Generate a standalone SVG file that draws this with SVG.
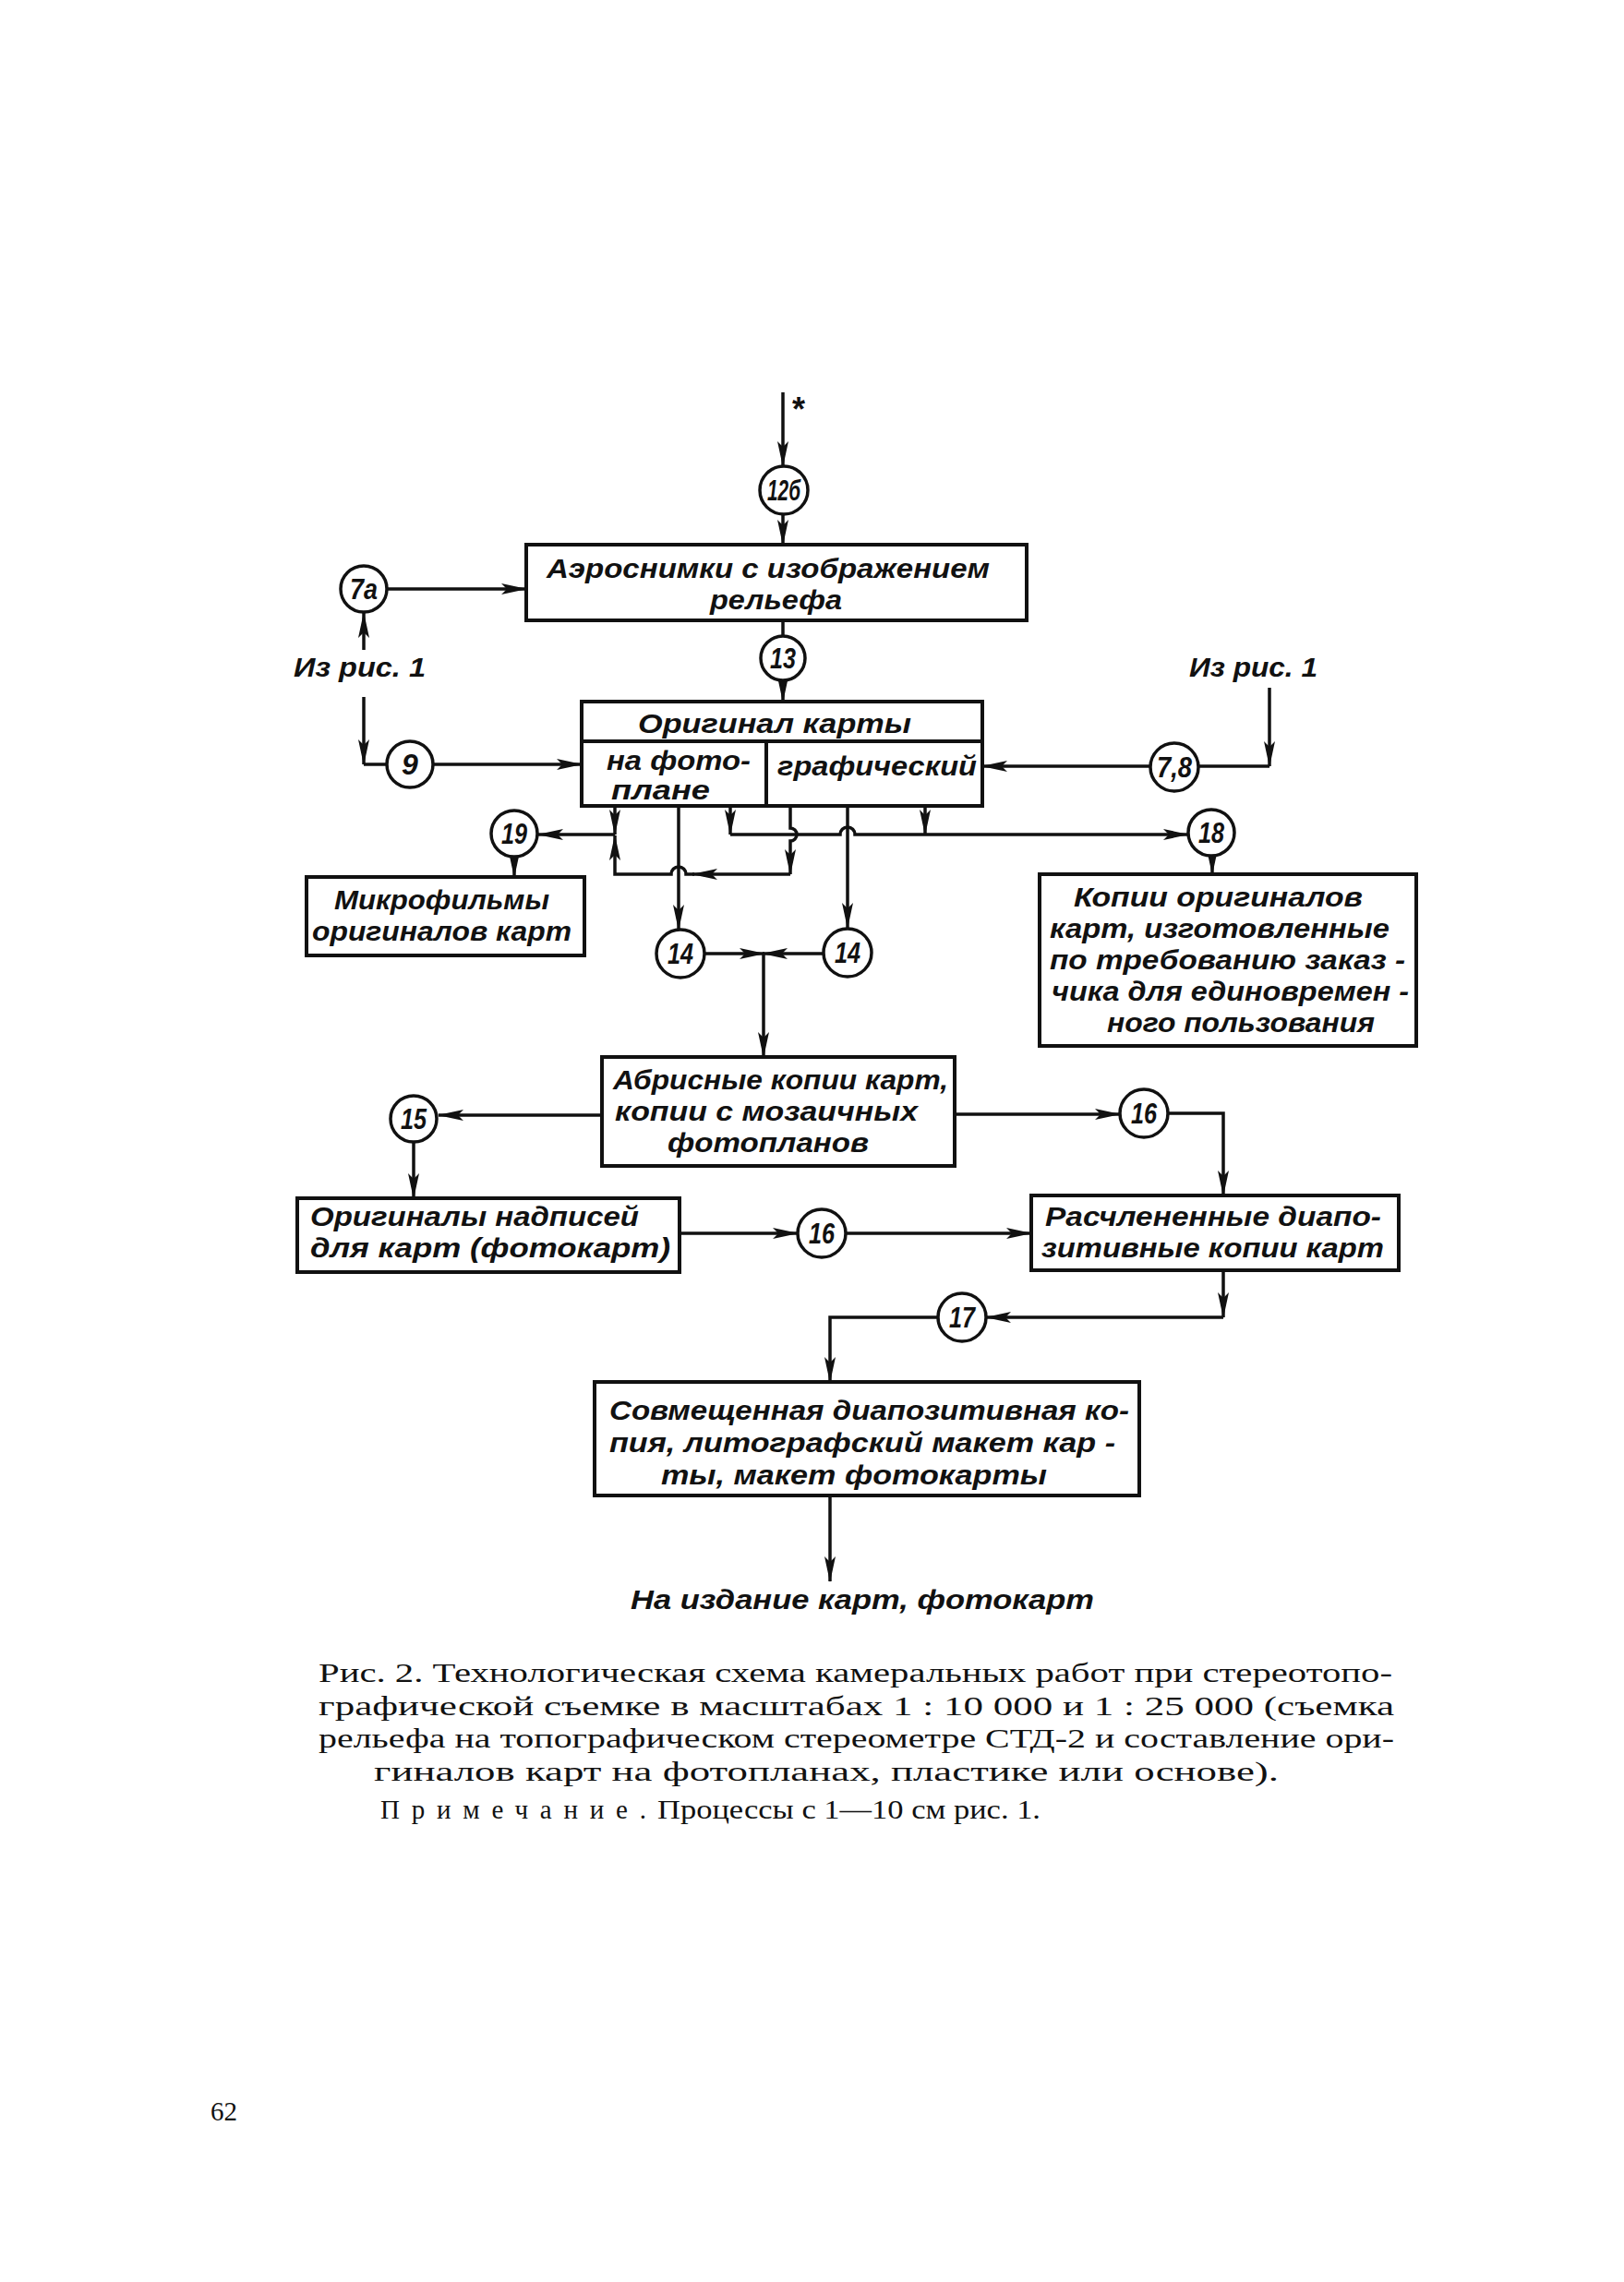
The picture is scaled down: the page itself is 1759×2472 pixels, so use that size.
<svg xmlns="http://www.w3.org/2000/svg" width="1759" height="2472" viewBox="0 0 1759 2472">
<style>
.bx{fill:none;stroke:#111;stroke-width:4}
.ci{fill:#fff;stroke:#111;stroke-width:3.5}
.ln{fill:none;stroke:#111;stroke-width:3.5}
.t{font-family:"Liberation Sans","DejaVu Sans",sans-serif;font-style:italic;font-weight:bold;font-size:30px;fill:#111}
.n{font-family:"Liberation Sans","DejaVu Sans",sans-serif;font-style:italic;font-weight:bold;font-size:32px;fill:#111;text-anchor:middle}
.cap{font-family:"Liberation Serif","DejaVu Serif",serif;font-size:29px;fill:#111}
</style>
<defs>
<marker id="a" viewBox="0 0 28 12" refX="27" refY="6" markerWidth="28" markerHeight="12" markerUnits="userSpaceOnUse" orient="auto">
<path d="M0,0 L28,6 L0,12 L6,6 z" fill="#111"/>
</marker>
</defs>
<rect width="1759" height="2472" fill="#fff"/>

<g id="connectors">
<path class="ln" d="M848,425 V505" marker-end="url(#a)"/>
<path class="ln" d="M848,557 V590" marker-end="url(#a)"/>
<path class="ln" d="M419,638 H570" marker-end="url(#a)"/>
<path class="ln" d="M394,704 V664" marker-end="url(#a)"/>
<path class="ln" d="M848,672 V689"/>
<path class="ln" d="M848,737 V760" marker-end="url(#a)"/>
<path class="ln" d="M394,755 V828" marker-end="url(#a)"/>
<path class="ln" d="M394,828 H419"/>
<path class="ln" d="M470,828 H630" marker-end="url(#a)"/>
<path class="ln" d="M1375,745 V830" marker-end="url(#a)"/>
<path class="ln" d="M1375,830 H1298"/>
<path class="ln" d="M1246,830 H1064" marker-end="url(#a)"/>
<path class="ln" d="M666,873 V904" marker-end="url(#a)"/>
<path class="ln" d="M856,873 V897 A7,7 0 0 1 856,911 V947" marker-end="url(#a)"/>
<path class="ln" d="M856,947 H750" marker-end="url(#a)"/>
<path class="ln" d="M752,947 H743 A8,8 0 0 0 727,947 H666 V905" marker-end="url(#a)"/>
<path class="ln" d="M666,904 H583" marker-end="url(#a)"/>
<path class="ln" d="M557,928 V950" marker-end="url(#a)"/>
<path class="ln" d="M735,873 V1007" marker-end="url(#a)"/>
<path class="ln" d="M791,873 V904" marker-end="url(#a)"/>
<path class="ln" d="M1002,873 V904" marker-end="url(#a)"/>
<path class="ln" d="M791,904 H910 A8,8 0 0 1 926,904 H1287" marker-end="url(#a)"/>
<path class="ln" d="M918,873 V1005" marker-end="url(#a)"/>
<path class="ln" d="M1313,927 V947" marker-end="url(#a)"/>
<path class="ln" d="M763,1033 H828" marker-end="url(#a)"/>
<path class="ln" d="M892,1033 H826" marker-end="url(#a)"/>
<path class="ln" d="M827,1033 V1145" marker-end="url(#a)"/>
<path class="ln" d="M652,1208 H475" marker-end="url(#a)"/>
<path class="ln" d="M448,1237 V1298" marker-end="url(#a)"/>
<path class="ln" d="M736,1336 H864" marker-end="url(#a)"/>
<path class="ln" d="M916,1336 H1117" marker-end="url(#a)"/>
<path class="ln" d="M1034,1207 H1213" marker-end="url(#a)"/>
<path class="ln" d="M1265,1206 H1325 V1295" marker-end="url(#a)"/>
<path class="ln" d="M1325,1376 V1427" marker-end="url(#a)"/>
<path class="ln" d="M1325,1427 H1068" marker-end="url(#a)"/>
<path class="ln" d="M1016,1427 H899 V1497" marker-end="url(#a)"/>
<path class="ln" d="M899,1620 V1713" marker-end="url(#a)"/>
</g>

<g id="n-star"><text x="858" y="456" font-family="Liberation Sans, sans-serif" font-weight="bold" font-size="36" fill="#111">*</text></g>

<g id="n-12b"><circle class="ci" cx="849" cy="531" r="26"/><text class="n" x="849" y="542" textLength="36" lengthAdjust="spacingAndGlyphs">12б</text></g>
<g id="n-7a"><circle class="ci" cx="394" cy="638" r="25"/><text class="n" x="394" y="649" textLength="30" lengthAdjust="spacingAndGlyphs">7а</text></g>
<g id="n-13"><circle class="ci" cx="848" cy="713" r="24"/><text class="n" x="848" y="724" textLength="28" lengthAdjust="spacingAndGlyphs">13</text></g>
<g id="n-9"><circle class="ci" cx="444" cy="828" r="25"/><text class="n" x="444" y="839">9</text></g>
<g id="n-78"><circle class="ci" cx="1272" cy="831" r="26"/><text class="n" x="1272" y="842" textLength="38" lengthAdjust="spacingAndGlyphs">7,8</text></g>
<g id="n-19"><circle class="ci" cx="557" cy="903" r="25"/><text class="n" x="557" y="914" textLength="28" lengthAdjust="spacingAndGlyphs">19</text></g>
<g id="n-18"><circle class="ci" cx="1312" cy="902" r="25"/><text class="n" x="1312" y="913" textLength="28" lengthAdjust="spacingAndGlyphs">18</text></g>
<g id="n-14a"><circle class="ci" cx="737" cy="1033" r="26"/><text class="n" x="737" y="1044" textLength="28" lengthAdjust="spacingAndGlyphs">14</text></g>
<g id="n-14b"><circle class="ci" cx="918" cy="1032" r="26"/><text class="n" x="918" y="1043" textLength="28" lengthAdjust="spacingAndGlyphs">14</text></g>
<g id="n-15"><circle class="ci" cx="448" cy="1212" r="25"/><text class="n" x="448" y="1223" textLength="28" lengthAdjust="spacingAndGlyphs">15</text></g>
<g id="n-16a"><circle class="ci" cx="1239" cy="1206" r="26"/><text class="n" x="1239" y="1217" textLength="28" lengthAdjust="spacingAndGlyphs">16</text></g>
<g id="n-16b"><circle class="ci" cx="890" cy="1336" r="26"/><text class="n" x="890" y="1347" textLength="28" lengthAdjust="spacingAndGlyphs">16</text></g>
<g id="n-17"><circle class="ci" cx="1042" cy="1427" r="26"/><text class="n" x="1042" y="1438" textLength="28" lengthAdjust="spacingAndGlyphs">17</text></g>

<g id="n-aero">
<rect class="bx" x="570" y="590" width="542" height="82"/>
<text class="t" x="592" y="626" textLength="480" lengthAdjust="spacingAndGlyphs">Аэроснимки с изображением</text>
<text class="t" x="769" y="660" textLength="143" lengthAdjust="spacingAndGlyphs">рельефа</text>
</g>

<g id="n-orig">
<rect class="bx" x="630" y="760" width="434" height="113"/>
<path class="bx" d="M630,803 H1064 M830,803 V873"/>
<text class="t" x="691" y="794" textLength="296" lengthAdjust="spacingAndGlyphs">Оригинал карты</text>
<text class="t" x="657" y="834" font-size="28" textLength="156" lengthAdjust="spacingAndGlyphs">на фото-</text>
<text class="t" x="662" y="866" font-size="28" textLength="107" lengthAdjust="spacingAndGlyphs">плане</text>
<text class="t" x="842" y="840" textLength="216" lengthAdjust="spacingAndGlyphs">графический</text>
</g>

<g id="n-from1-left"><text class="t" x="318" y="733" font-size="32" textLength="143" lengthAdjust="spacingAndGlyphs">Из рис. 1</text></g>
<g id="n-from1-right"><text class="t" x="1288" y="733" font-size="32" textLength="139" lengthAdjust="spacingAndGlyphs">Из рис. 1</text></g>

<g id="n-micro">
<rect class="bx" x="332" y="950" width="301" height="85"/>
<text class="t" x="362" y="985" textLength="233" lengthAdjust="spacingAndGlyphs">Микрофильмы</text>
<text class="t" x="338" y="1019" textLength="281" lengthAdjust="spacingAndGlyphs">оригиналов карт</text>
</g>

<g id="n-copies">
<rect class="bx" x="1126" y="947" width="408" height="186"/>
<text class="t" x="1163" y="982" textLength="313" lengthAdjust="spacingAndGlyphs">Копии оригиналов</text>
<text class="t" x="1137" y="1016" textLength="368" lengthAdjust="spacingAndGlyphs">карт, изготовленные</text>
<text class="t" x="1137" y="1050" textLength="385" lengthAdjust="spacingAndGlyphs">по требованию заказ -</text>
<text class="t" x="1139" y="1084" textLength="387" lengthAdjust="spacingAndGlyphs">чика для единовремен -</text>
<text class="t" x="1199" y="1118" textLength="290" lengthAdjust="spacingAndGlyphs">ного пользования</text>
</g>

<g id="n-abris">
<rect class="bx" x="652" y="1145" width="382" height="118"/>
<text class="t" x="664" y="1180" textLength="363" lengthAdjust="spacingAndGlyphs">Абрисные копии карт,</text>
<text class="t" x="666" y="1214" textLength="328" lengthAdjust="spacingAndGlyphs">копии с мозаичных</text>
<text class="t" x="723" y="1248" textLength="218" lengthAdjust="spacingAndGlyphs">фотопланов</text>
</g>

<g id="n-nadpisi">
<rect class="bx" x="322" y="1298" width="414" height="80"/>
<text class="t" x="336" y="1328" textLength="356" lengthAdjust="spacingAndGlyphs">Оригиналы надписей</text>
<text class="t" x="336" y="1362" textLength="390" lengthAdjust="spacingAndGlyphs">для карт (фотокарт)</text>
</g>

<g id="n-raschl">
<rect class="bx" x="1117" y="1295" width="398" height="81"/>
<text class="t" x="1132" y="1328" textLength="364" lengthAdjust="spacingAndGlyphs">Расчлененные диапо-</text>
<text class="t" x="1128" y="1362" textLength="371" lengthAdjust="spacingAndGlyphs">зитивные копии карт</text>
</g>

<g id="n-sovm">
<rect class="bx" x="644" y="1497" width="590" height="123"/>
<text class="t" x="660" y="1538" textLength="563" lengthAdjust="spacingAndGlyphs">Совмещенная диапозитивная ко-</text>
<text class="t" x="660" y="1573" textLength="548" lengthAdjust="spacingAndGlyphs">пия, литографский макет кар -</text>
<text class="t" x="716" y="1608" textLength="418" lengthAdjust="spacingAndGlyphs">ты, макет фотокарты</text>
</g>

<g id="n-output">
<text class="t" x="683" y="1743" font-size="38" textLength="502" lengthAdjust="spacingAndGlyphs">На издание карт, фотокарт</text>
</g>

<g id="caption">
<text class="cap" x="345" y="1822" textLength="1163" lengthAdjust="spacingAndGlyphs">Рис. 2. Технологическая схема камеральных работ при стереотопо-</text>
<text class="cap" x="345" y="1858" textLength="1165" lengthAdjust="spacingAndGlyphs">графической  съемке  в  масштабах  1 : 10 000  и  1 : 25 000  (съемка</text>
<text class="cap" x="345" y="1893" textLength="1165" lengthAdjust="spacingAndGlyphs">рельефа на топографическом стереометре СТД-2 и составление ори-</text>
<text class="cap" x="405" y="1929" textLength="980" lengthAdjust="spacingAndGlyphs">гиналов карт на фотопланах, пластике или основе).</text>
<text class="cap" x="412" y="1970" font-size="26" textLength="288" lengthAdjust="spacing">Примечание.</text>
<text class="cap" x="712" y="1970" font-size="26" textLength="415" lengthAdjust="spacingAndGlyphs">Процессы с 1—10 см рис. 1.</text>
</g>

<g id="page-number"><text class="cap" x="228" y="2297" font-size="34">62</text></g>
</svg>
